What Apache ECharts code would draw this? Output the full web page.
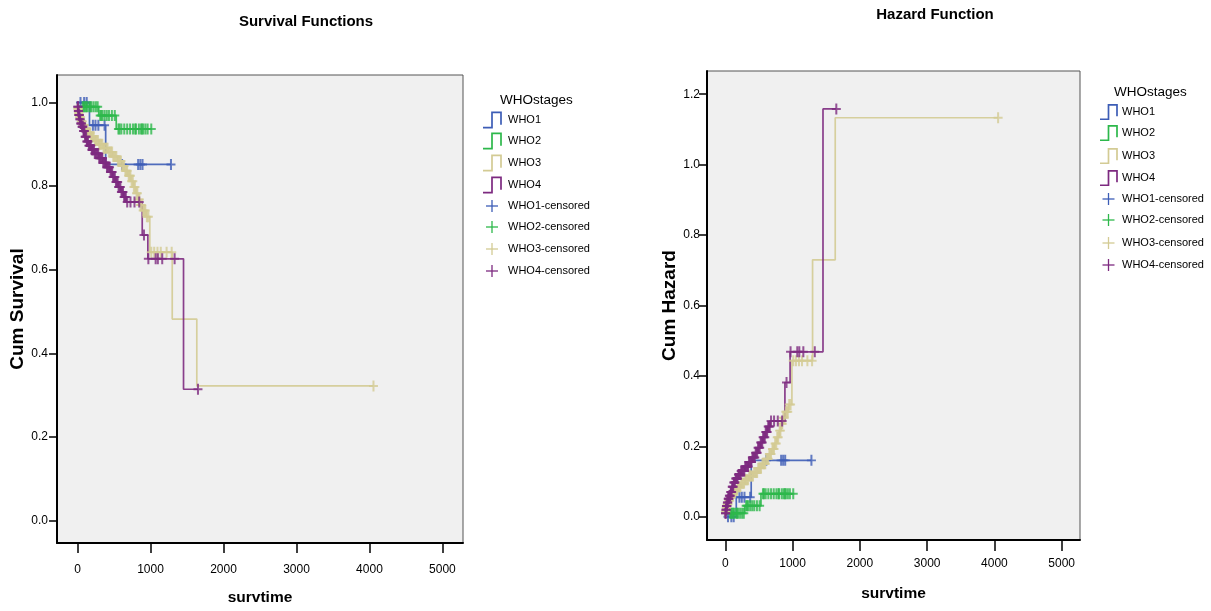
<!DOCTYPE html>
<html>
<head>
<meta charset="utf-8">
<script src="https://cdn.jsdelivr.net/npm/echarts@6/dist/echarts.min.js"></script>
<style>
  html, body { margin: 0; padding: 0; background: #ffffff; }
  #chart { width: 1211px; height: 611px; }
</style>
</head>
<body>
<div id="chart"></div>
<script>
// Kaplan-Meier estimates by WHO stage: [time, survival after the event]
const who1Events = [[163, 0.946], [385, 0.852]];
const who2Events = [[20, 0.99], [290, 0.969], [530, 0.937]];
const who3Events = [
  [3, 0.985], [10, 0.975], [25, 0.965], [45, 0.955], [70, 0.946], [100, 0.936],
  [130, 0.928], [180, 0.918], [230, 0.909], [290, 0.9], [350, 0.891], [420, 0.882],
  [480, 0.871], [544, 0.86], [600, 0.848], [643, 0.837], [690, 0.825], [730, 0.812],
  [765, 0.798], [800, 0.783], [830, 0.768], [850, 0.755], [890, 0.742], [940, 0.727],
  [990, 0.642], [1297, 0.482], [1634, 0.322]
];
const who4Events = [
  [2, 0.99], [8, 0.98], [15, 0.97], [27, 0.96], [40, 0.95], [55, 0.942], [75, 0.932],
  [100, 0.918], [124, 0.907], [150, 0.897], [190, 0.887], [230, 0.878], [290, 0.867],
  [346, 0.856], [395, 0.845], [445, 0.834], [480, 0.822], [519, 0.81], [555, 0.798],
  [593, 0.786], [630, 0.774], [668, 0.762], [886, 0.683], [963, 0.626], [1452, 0.314]
];

// Censored observation times by WHO stage
const who1Censored = [40, 90, 125, 210, 245, 285, 370, 610, 830, 860, 890, 1280];
const who2Censored = [70, 85, 100, 118, 130, 160, 175, 190, 220, 250, 275, 310, 325, 340, 370, 400,
  430, 470, 510, 560, 575, 600, 640, 680, 720, 760, 790, 800, 840, 870, 885, 900, 930, 960, 1010];
const who3Censored = [4, 8, 14, 19, 27, 33, 41, 50, 57, 64, 76, 84, 93, 106, 115, 123, 137, 149,
  158, 171, 186, 197, 209, 221, 238, 251, 263, 279, 296, 308, 322, 339, 356, 367, 381, 398, 411,
  429, 447, 458, 473, 489, 503, 516, 531, 552, 566, 579, 594, 611, 622, 637, 655, 668, 679, 701,
  712, 724, 741, 757, 772, 786, 808, 819, 838, 846, 862, 878, 899, 915, 928, 950, 970, 1010, 1050,
  1095, 1140, 1220, 1290, 4055];
const who4Censored = [3, 6, 10, 13, 17, 21, 24, 31, 36, 43, 49, 53, 61, 68, 72, 81, 88, 94, 103,
  109, 118, 127, 133, 142, 155, 163, 172, 181, 196, 204, 213, 225, 236, 247, 259, 271, 283, 297,
  306, 318, 331, 339, 352, 366, 377, 389, 403, 414, 426, 438, 452, 463, 474, 487, 498, 511, 526,
  537, 549, 562, 574, 587, 601, 613, 622, 638, 649, 661, 680, 725, 780, 845, 910, 970, 1070, 1100,
  1160, 1330, 1650];

const groupNames = ['WHO1', 'WHO2', 'WHO3', 'WHO4'];
const groupColors = ['#3d5db6', '#2db84b', '#d3cb94', '#7d2a80'];

// Axis ticks
const timeTicks = [0, 1000, 2000, 3000, 4000, 5000];
const survivalTicks = [0, 0.2, 0.4, 0.6, 0.8, 1.0];
const hazardTicks = [0, 0.2, 0.4, 0.6, 0.8, 1.0, 1.2];

const groups = [
  { events: who1Events, censored: who1Censored },
  { events: who2Events, censored: who2Censored },
  { events: who3Events, censored: who3Censored },
  { events: who4Events, censored: who4Censored }
];

const sans = "'Liberation Sans',Arial,sans-serif";

function survivalAt(events, t) {
  let s = 1;
  for (const [et, es] of events) { if (et <= t) s = es; }
  return s;
}
const toHazard = s => (s >= 1 ? 0 : -Math.log(s));

function curve(events, censored, fn) {
  const lastT = Math.max(censored[censored.length - 1], events[events.length - 1][0]);
  const pts = [[0, 1]].concat(events);
  pts.push([lastT, survivalAt(events, lastT)]);
  return pts.map(([t, s]) => [t, fn(s)]);
}
function marks(events, censored, fn) {
  return censored.map(t => [t, fn(survivalAt(events, t))]);
}

// plus-shaped marker for censored cases
const plusPath = 'path://M0,4.1H8V5.9H0Z M3.1,0H4.9V10H3.1Z';

const series = [];
[0, 1].forEach(gi => {
  const fn = gi === 0 ? (s => s) : toHazard;
  groups.forEach((g, i) => {
    series.push({
      name: groupNames[i], type: 'line', step: 'end',
      xAxisIndex: gi, yAxisIndex: gi,
      data: curve(g.events, g.censored, fn),
      showSymbol: false, symbol: 'none',
      lineStyle: { color: groupColors[i], width: 1.7, opacity: 0.9 },
      z: 2 + i
    });
  });
  groups.forEach((g, i) => {
    series.push({
      name: groupNames[i] + '-censored', type: 'scatter',
      xAxisIndex: gi, yAxisIndex: gi,
      data: marks(g.events, g.censored, fn),
      symbol: plusPath, symbolSize: [9, 11],
      itemStyle: { color: groupColors[i] },
      z: 6 + i
    });
  });
});

function xAxis(gridIndex, min, max, margin, tickLen, gap) {
  return {
    type: 'value', gridIndex, min, max,
    name: 'survtime', nameLocation: 'middle', nameGap: gap,
    nameTextStyle: { fontFamily: sans, fontWeight: 'bold', fontSize: 15.5, color: '#000' },
    axisLine: { show: true, onZero: false, lineStyle: { color: '#000', width: 2 } },
    axisTick: { show: true, length: tickLen, customValues: timeTicks, lineStyle: { color: '#000', width: 1.5 } },
    axisLabel: { customValues: timeTicks, margin, fontFamily: sans, fontSize: 12, color: '#000',
      formatter: v => String(v) },
    splitLine: { show: false }
  };
}
function yAxis(gridIndex, min, max, ticks, name, gap, margin) {
  return {
    type: 'value', gridIndex, min, max,
    name, nameLocation: 'middle', nameGap: gap, nameRotate: 90,
    nameTextStyle: { fontFamily: sans, fontWeight: 'bold', fontSize: 19, color: '#000' },
    axisLine: { show: true, onZero: false, lineStyle: { color: '#000', width: 2 } },
    axisTick: { show: true, length: 8, customValues: ticks, lineStyle: { color: '#000', width: 1.5 } },
    axisLabel: { customValues: ticks, margin, fontFamily: sans, fontSize: 12, color: '#000',
      formatter: v => v.toFixed(1) },
    splitLine: { show: false }
  };
}

function legend(x0, textX, title, titleY, rows, glyphW) {
  const els = [{
    type: 'text', x: textX - 8, y: titleY,
    style: { text: title, font: '13.5px ' + sans, fill: '#000', textVerticalAlign: 'middle' }
  }];
  groupNames.forEach((n, i) => {
    const y = rows[i];
    const h = glyphW * 0.85;
    els.push({
      type: 'polyline',
      shape: { points: [[x0, y + h / 2], [x0 + glyphW / 2, y + h / 2], [x0 + glyphW / 2, y - h / 2],
        [x0 + glyphW, y - h / 2], [x0 + glyphW, y + h / 2 - 3]] },
      style: { stroke: groupColors[i], lineWidth: 1.7, fill: null }
    });
    els.push({ type: 'text', x: textX, y, style: { text: n, font: '11px ' + sans, fill: '#000', textVerticalAlign: 'middle' } });
  });
  groupNames.forEach((n, i) => {
    const y = rows[i + 4];
    const cx = x0 + glyphW / 2;
    els.push({ type: 'line', shape: { x1: cx - 6, y1: y, x2: cx + 6, y2: y }, style: { stroke: groupColors[i], lineWidth: 1.3 } });
    els.push({ type: 'line', shape: { x1: cx, y1: y - 6, x2: cx, y2: y + 6 }, style: { stroke: groupColors[i], lineWidth: 1.3 } });
    els.push({ type: 'text', x: textX, y, style: { text: n + '-censored', font: '11px ' + sans, fill: '#000', textVerticalAlign: 'middle' } });
  });
  return els;
}

const chart = echarts.init(document.getElementById('chart'), null, { renderer: 'canvas' });
chart.setOption({
  animation: false,
  backgroundColor: '#ffffff',
  grid: [
    { left: 57, top: 75, width: 406, height: 470, show: true, backgroundColor: '#f0f0f0', borderColor: '#555', borderWidth: 1 },
    { left: 707, top: 71, width: 373, height: 469, show: true, backgroundColor: '#f0f0f0', borderColor: '#555', borderWidth: 1 }
  ],
  xAxis: [xAxis(0, -282, 5282, 21, 10, 47), xAxis(1, -272, 5272, 18, 11, 46)],
  yAxis: [
    yAxis(0, -0.054, 1.066, survivalTicks, 'Cum Survival', 30, 9),
    yAxis(1, -0.066, 1.266, hazardTicks, 'Cum Hazard', 27, 7)
  ],
  graphic: [
    { type: 'text', x: 306, y: 22, style: { text: 'Survival Functions', font: 'bold 15px ' + sans, fill: '#000', textAlign: 'center', textVerticalAlign: 'middle' } },
    { type: 'text', x: 935, y: 15, style: { text: 'Hazard Function', font: 'bold 15px ' + sans, fill: '#000', textAlign: 'center', textVerticalAlign: 'middle' } }
  ].concat(
    legend(483, 508, 'WHOstages', 100, [120, 141, 163, 185, 206, 227, 249, 271], 18),
    legend(1100, 1122, 'WHOstages', 92, [112, 133, 156, 178, 199, 220, 243, 265], 17)
  ),
  series
});
</script>
</body>
</html>
